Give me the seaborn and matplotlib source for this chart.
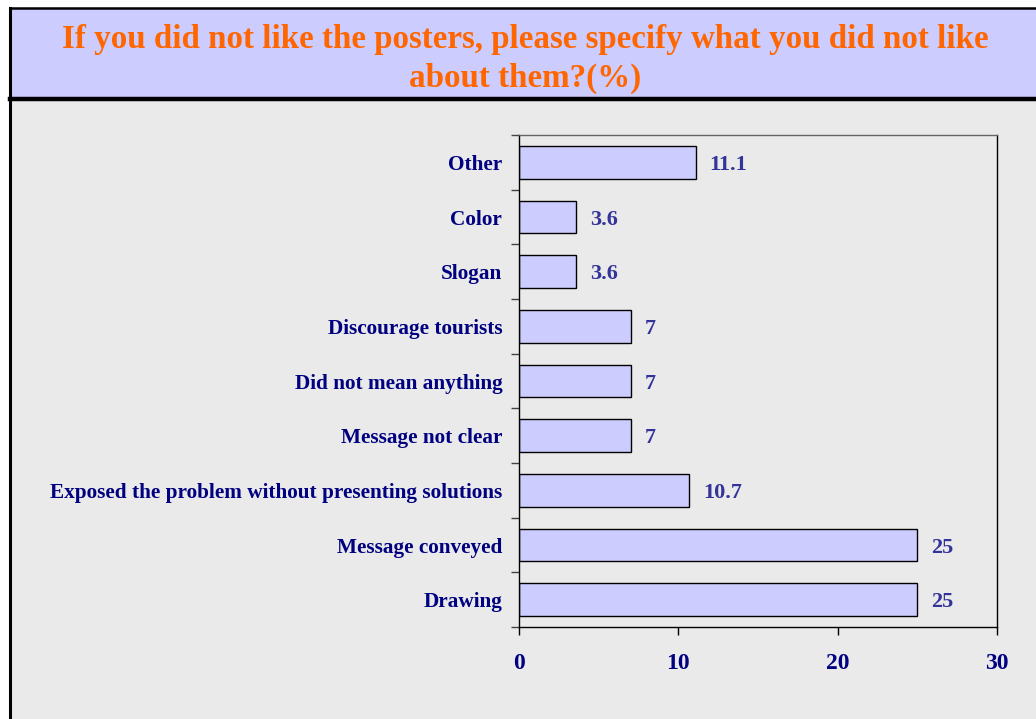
import numpy as np
import pandas as pd
import seaborn as sns
import matplotlib.pyplot as plt
from matplotlib.patches import Rectangle
from matplotlib.lines import Line2D
from matplotlib.ticker import FixedLocator

reasons = ['Other', 'Color', 'Slogan', 'Discourage tourists',
           'Did not mean anything', 'Message not clear',
           'Exposed the problem without presenting solutions',
           'Message conveyed', 'Drawing']
percent = [11.1, 3.6, 3.6, 7, 7, 7, 10.7, 25, 25]
value_text = ['11.1', '3.6', '3.6', '7', '7', '7', '10.7', '25', '25']
x_ticks = [0, 10, 20, 30]

title = 'If you did not like the posters, please specify what you did not like\nabout them?(%)'

plt.rcParams['font.family'] = ['Liberation Serif', 'DejaVu Serif']
plt.rcParams['font.weight'] = 'bold'

df = pd.DataFrame({'reason': reasons, 'pct': percent})

fig = plt.figure(figsize=(10.36, 7.19), dpi=100, facecolor='white')
W, H = 1036, 719

# page background: gray panel, lavender title box, black frame lines
fig.patches.append(Rectangle((10 / W, 0), 1 - 10 / W, 1 - 100 / H,
                             transform=fig.transFigure, facecolor='#EAEAEA',
                             edgecolor='none', zorder=-2))
fig.patches.append(Rectangle((10 / W, 1 - 99 / H), 1 - 10 / W, 91 / H,
                             transform=fig.transFigure, facecolor='#CCCCFF',
                             edgecolor='none', zorder=-2))
fig.lines.append(Line2D([10 / W, 1], [1 - 99 / H, 1 - 99 / H],
                        transform=fig.transFigure, color='black', lw=3.2))
fig.lines.append(Line2D([10 / W, 1], [1 - 8 / H, 1 - 8 / H],
                        transform=fig.transFigure, color='black', lw=1.8))
fig.lines.append(Line2D([10 / W, 10 / W], [0, 1 - 8 / H],
                        transform=fig.transFigure, color='black', lw=2.2))

fig.text(0.507, 1 - 59 / H, title, ha='center', va='center',
         fontsize=23.8, color='#FF6600', fontweight='bold', linespacing=1.32)

ax = fig.add_axes([519 / W, 1 - 627 / H, (997 - 519) / W, (627 - 135) / H])
ax.set_facecolor('#EAEAEA')

sns.barplot(data=df, x='pct', y='reason', orient='h', color='#CCCCFF',
            saturation=1, edgecolor='black', linewidth=1.0, width=0.6, ax=ax)

ax.set_xlim(0, 30)
ax.set_ylim(len(reasons) - 0.5, -0.5)
ax.set_xlabel('')
ax.set_ylabel('')
ax.set_xticks(x_ticks)
ax.set_xticklabels([str(t) for t in x_ticks])

for sp in ax.spines.values():
    sp.set_color('black')
    sp.set_linewidth(1.0)
ax.spines['top'].set_color('#666666')

# ticks at category boundaries, labels at centers
ax.yaxis.set_minor_locator(FixedLocator(np.arange(-0.5, len(reasons), 1.0)))
ax.tick_params(axis='y', which='major', length=0, pad=12,
               labelsize=15.3, labelcolor='#000080')
ax.tick_params(axis='y', which='minor', length=6, width=1, color='#444444',
               direction='out')
ax.tick_params(axis='x', which='major', length=6, width=1, direction='out',
               pad=13, labelsize=17, labelcolor='#000080')
for lab in ax.get_xticklabels() + ax.get_yticklabels():
    lab.set_fontweight('bold')

# value labels next to each bar
for bar, txt in zip(ax.patches, value_text):
    ax.annotate(txt, (bar.get_width(), bar.get_y() + bar.get_height() / 2),
                xytext=(10, -2), textcoords='offset points', ha='left',
                va='center', fontsize=16, color='#333399', fontweight='bold')

fig.savefig('out.png', dpi=100, facecolor=fig.get_facecolor())
